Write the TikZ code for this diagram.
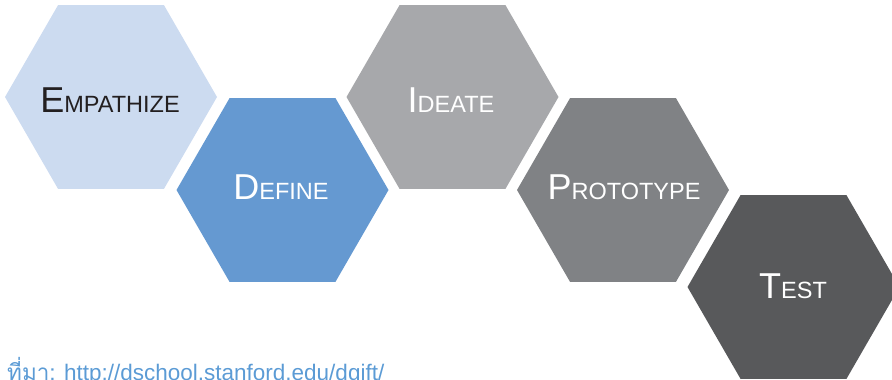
\documentclass[tikz,border=0pt]{standalone}
\usepackage{fontspec}
\setmainfont{Liberation Sans}
\newfontfamily\thaifont[Script=Thai]{Loma}
\definecolor{cEmp}{HTML}{CCDBF0}
\definecolor{cDef}{HTML}{6599D1}
\definecolor{cIde}{HTML}{A7A8AB}
\definecolor{cPro}{HTML}{808285}
\definecolor{cTes}{HTML}{58595B}
\definecolor{cDark}{HTML}{231F20}
\definecolor{cLink}{HTML}{5B9BD5}
\newcommand\hexlabel[2]{{\fontsize{36}{40}\selectfont #1}{\fontsize{23.5}{27}\selectfont #2}}
\tikzset{
  pics/hexa/.style={code={
    \fill[#1] (-106,0) -- (-53,-91.8) -- (53,-91.8) -- (106,0) -- (53,91.8) -- (-53,91.8) -- cycle;}},
  hexlab/.style={inner sep=0pt, outer sep=0pt, anchor=center},
}
\begin{document}
\begin{tikzpicture}[x=1pt,y=-1pt]
\useasboundingbox (0,0) rectangle (892,380);
\clip (0,0) rectangle (892,380);
\pic at (111,97)    {hexa=cEmp};
\pic at (282.5,190) {hexa=cDef};
\pic at (452.5,97)  {hexa=cIde};
\pic at (623,190)   {hexa=cPro};
\pic at (793.5,287) {hexa=cTes};
\node[hexlab, text=cDark] (emp) at (110,100)  {\hexlabel{E}{MPATHIZE}};
\node[hexlab, text=white] (def) at (281,187.5) {\hexlabel{D}{EFINE}};
\node[hexlab, text=white] (ide) at (451,100) {\hexlabel{I}{DEATE}};
\node[hexlab, text=white] (pro) at (624,187.5) {\hexlabel{P}{ROTOTYPE}};
\node[hexlab, text=white] (tes) at (793,286.5) {\hexlabel{T}{EST}};
\node[anchor=base west, inner sep=0pt, text=cLink, font=\fontsize{22.5}{27}\selectfont] (src) at (7,380)
  {{\thaifont ที่มา:} http://dschool.stanford.edu/dgift/};
\end{tikzpicture}
\end{document}
